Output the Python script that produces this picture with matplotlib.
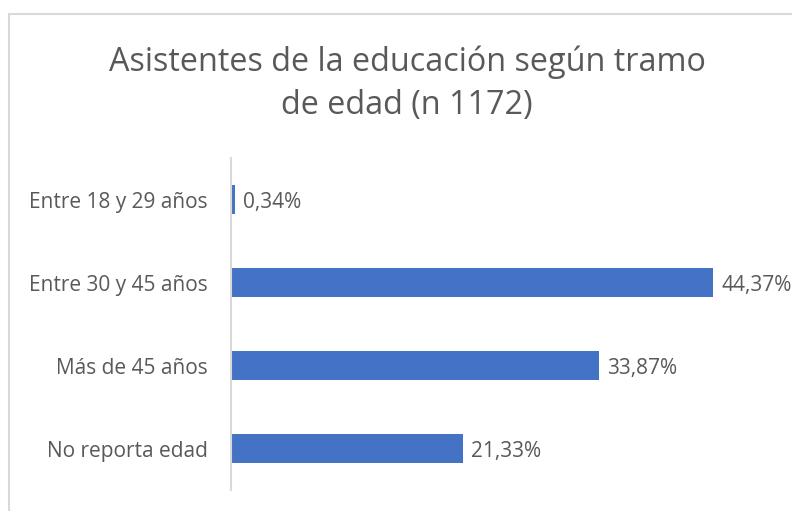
import matplotlib.pyplot as plt
from matplotlib.patches import Rectangle

categories = ["Entre 18 y 29 años", "Entre 30 y 45 años", "Más de 45 años", "No reporta edad"]
values = [0.34, 44.37, 33.87, 21.33]
labels = ["0,34%", "44,37%", "33,87%", "21,33%"]

plt.rcParams['font.family'] = ['Open Sans', 'DejaVu Sans']
gray = '#595959'

fig = plt.figure(figsize=(7.92, 5.11), dpi=100)
# chart area border (cut off at right and bottom)
fig.patches.append(Rectangle((9/792, -0.1), 1.1, (511-14)/511 + 0.1, transform=fig.transFigure,
                             fill=False, edgecolor='#d9d9d9', linewidth=1.5))

ax = fig.add_axes([231/792, 21/511, 543/792, 332/511])
y = list(range(len(categories)))
ax.barh(y, values, height=0.36, color='#4472C4')
for yi, v, lab in zip(y, values, labels):
    ax.text(v + 0.75, yi, lab, va='center_baseline', ha='left', fontsize=15, color=gray)

ax.set_xlim(0, 50)
ax.set_ylim(3.5, -0.5)
ax.set_yticks(y)
ax.set_yticklabels(categories, fontsize=15, color=gray)
ax.tick_params(axis='y', length=0, pad=16.5)
ax.set_xticks([])
for s in ['top', 'right', 'bottom']:
    ax.spines[s].set_visible(False)
ax.spines['left'].set_color('#d9d9d9')
ax.spines['left'].set_linewidth(1.5)

fig.text(407/792, 1 - 84/511, "Asistentes de la educación según tramo\nde edad (n 1172)",
         ha='center', va='center', fontsize=23.3, color=gray, linespacing=1.4)

fig.savefig('out.png', dpi=100)
